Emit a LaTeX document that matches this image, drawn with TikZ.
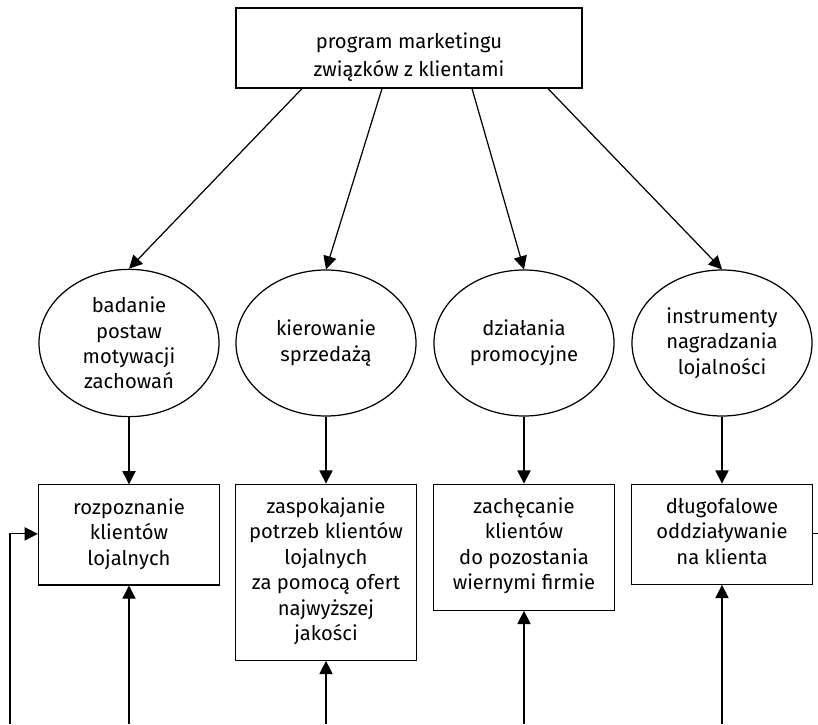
\documentclass[tikz,border=0pt]{standalone}
\usepackage{fontspec}
\setmainfont{Fira Sans}
\usepackage{tikz}
\usetikzlibrary{shapes.geometric, arrows.meta, positioning, calc}
\newcommand{\boxtext}[4]{\parbox[c][#1][t]{#2}{\centering\vspace*{#3}\strut#4}}
\tikzstyle{topbox} = [rectangle, draw, inner sep=0pt, align=center,
  font=\fontsize{11.5}{14.5}\selectfont, line width=0.7pt]
\tikzstyle{oval} = [ellipse, draw, minimum width=3.6cm, minimum height=2.92cm,
  align=center, font=\fontsize{11.5}{14.5}\selectfont, line width=0.7pt]
\tikzstyle{stepbox} = [rectangle, draw, inner sep=0pt, align=center,
  font=\fontsize{11.5}{14.5}\selectfont, line width=0.7pt]
\tikzstyle{arrow} = [line width=0.7pt, -{Triangle[length=7.5pt,width=7.5pt]}]

\begin{document}
\begin{tikzpicture}[node distance=1.34cm]
  \useasboundingbox (0,0) rectangle (16.36,14.48);
  \node (prog) [topbox] at (8.18,13.52) {\boxtext{1.6cm}{6.92cm}{13pt}{program marketingu\\[1.5pt]związków z klientami}};

  \node (e1) [oval] at (2.58,7.62)  {badanie\\postaw\\motywacji\\zachowań};
  \node (e2) [oval] at (6.52,7.62)  {kierowanie\\sprzedażą};
  \node (e3) [oval] at (10.48,7.62) {działania\\promocyjne};
  \node (e4) [oval] at (14.44,7.62) {instrumenty\\nagradzania\\lojalności};

  \node (b1) [stepbox, below=of e1] {\boxtext{2cm}{3.62cm}{6.5pt}{rozpoznanie\\klientów\\lojalnych}};
  \node (b2) [stepbox, below=of e2] {\boxtext{3.52cm}{3.62cm}{6.5pt}{zaspokajanie\\potrzeb klientów\\lojalnych\\za pomocą ofert\\najwyższej\\jakości}};
  \node (b3) [stepbox, below=of e3] {\boxtext{2.52cm}{3.62cm}{6.5pt}{zachęcanie\\klientów\\do pozostania\\wiernymi firmie}};
  \node (b4) [stepbox, below=of e4] {\boxtext{2cm}{3.62cm}{6.5pt}{długofalowe\\oddziaływanie\\na klienta}};

  % free ends at the lower edge
  \coordinate (f0) at (0.2,0);
  \coordinate (f1) at (b1 |- 0,0);
  \coordinate (f2) at (b2 |- 0,0);
  \coordinate (f3) at (b3 |- 0,0);
  \coordinate (f4) at (b4 |- 0,0);

  \draw[arrow] ($(prog.south)+(-2.14,0)$) -- (e1.north);
  \draw[arrow] ($(prog.south)+(-0.54,0)$) -- (e2.north);
  \draw[arrow] ($(prog.south)+(1.26,0)$) -- (e3.north);
  \draw[arrow] ($(prog.south)+(2.78,0)$) -- (e4.north);

  \draw[arrow] (e1) -- (b1);
  \draw[arrow] (e2) -- (b2);
  \draw[arrow] (e3) -- (b3);
  \draw[arrow] (e4) -- (b4);

  \draw[arrow] (f1) -- (b1);
  \draw[arrow] (f2) -- (b2);
  \draw[arrow] (f3) -- (b3);
  \draw[arrow] (f4) -- (b4);

  \draw[arrow] (f0) |- ($(b1.north west)!0.49!(b1.south west)$);
  \draw[line width=0.7pt] ($(b4.north east)!0.49!(b4.south east)$) -- ++(0.2,0);
\end{tikzpicture}
\end{document}
